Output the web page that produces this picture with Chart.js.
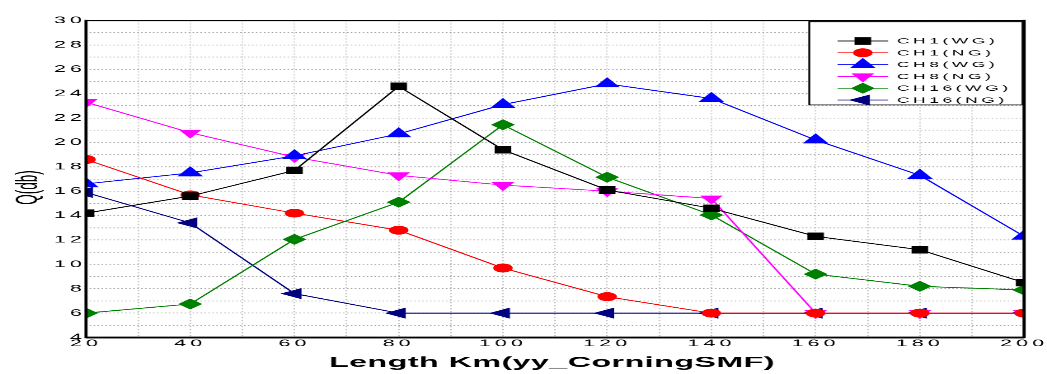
<!DOCTYPE html>
<html>
<head>
<meta charset="utf-8">
<script src="https://cdn.jsdelivr.net/npm/chart.js@4/dist/chart.umd.min.js"></script>
<style>
html,body{margin:0;padding:0;background:#fff;overflow:hidden}
#c{display:block}
</style>
</head>
<body>
<canvas id="c" width="635" height="499" style="width:1047px;height:374px"></canvas>
<script>
// ---- data ----
const lengthsKm = [20, 40, 60, 80, 100, 120, 140, 160, 180, 200];
const ch1WG  = [14.2, 15.6, 17.7, 24.6, 19.4, 16.1, 14.6, 12.3, 11.2, 8.5];
const ch1NG  = [18.6, 15.7, 14.2, 12.8, 9.7, 7.35, 6.0, 6.0, 6.0, 6.0];
const ch8WG  = [16.6, 17.5, 18.9, 20.7, 23.1, 24.8, 23.6, 20.2, 17.3, 12.3];
const ch8NG  = [23.3, 20.8, 18.8, 17.3, 16.5, 16.0, 15.4, 6.0, 6.0, 6.0];
const ch16WG = [6.0, 6.75, 12.05, 15.1, 21.45, 17.15, 14.05, 9.2, 8.2, 7.9];
const ch16NG = [15.9, 13.4, 7.6, 6.0, 6.0, 6.0, 6.0, 6.0, 6.0, 6.0];
const seriesNames = ['CH1(WG)', 'CH1(NG)', 'CH8(WG)', 'CH8(NG)', 'CH16(WG)', 'CH16(NG)'];
const xTickLabels = [20, 40, 60, 80, 100, 120, 140, 160, 180, 200];
const yTickLabels = [4, 6, 8, 10, 12, 14, 16, 18, 20, 22, 24, 26, 28, 30];
const xTitle = 'Length Km(yy_CorningSMF)';
const yTitle = 'Q(db)';

// ---- styles ----
const FONT = "'Liberation Sans', Arial, sans-serif";
const W = 635, H = 499;
const AREA = {left: 52.16, right: 621.1, top: 27.35, bottom: 450.3};
const styles = [
  {color: '#000000', pointStyle: 'rect', rotation: 0, radius: 6.4},
  {color: '#ff0000', pointStyle: 'circle', rotation: 0, radius: 5.4},
  {color: '#0000ff', pointStyle: 'triangle', rotation: 0, radius: 8},
  {color: '#ff00ff', pointStyle: 'triangle', rotation: 180, radius: 7},
  {color: '#008000', pointStyle: 'rectRot', rotation: 0, radius: 6.6},
  {color: '#000080', pointStyle: 'triangle', rotation: -90, radius: 7.5}
];
const seriesValues = [ch1WG, ch1NG, ch8WG, ch8NG, ch16WG, ch16NG];

const datasets = seriesValues.map((vals, i) => ({
  label: seriesNames[i],
  data: lengthsKm.map((x, j) => ({x: x, y: vals[j]})),
  borderColor: styles[i].color,
  backgroundColor: styles[i].color,
  borderWidth: 1.2,
  pointStyle: styles[i].pointStyle,
  pointRotation: styles[i].rotation,
  pointRadius: styles[i].radius,
  pointHoverRadius: styles[i].radius,
  pointBackgroundColor: styles[i].color,
  pointBorderColor: styles[i].color,
  pointBorderWidth: 1,
  fill: false,
  tension: 0,
  clip: 0
}));

const TICK_SPACING = '2.5px';
const spacingPlugin = {
  id: 'spacing',
  beforeUpdate(chart) { chart.ctx.letterSpacing = TICK_SPACING; },
  beforeDraw(chart) { chart.ctx.letterSpacing = TICK_SPACING; }
};

function drawMarker(ctx, st, x, y) {
  ctx.save();
  ctx.fillStyle = st.color;
  ctx.strokeStyle = st.color;
  ctx.lineWidth = 1;
  if (Chart.helpers && Chart.helpers.drawPoint) {
    Chart.helpers.drawPoint(ctx, {pointStyle: st.pointStyle, rotation: st.rotation, radius: st.radius, borderWidth: 1}, x, y);
  }
  ctx.restore();
}

const decorPlugin = {
  id: 'decor',
  afterDraw(chart) {
    const ctx = chart.ctx;
    const a = chart.chartArea;
    ctx.save();
    ctx.letterSpacing = '0px';
    // frame
    ctx.strokeStyle = '#000';
    ctx.lineWidth = 1.9;
    ctx.beginPath(); ctx.moveTo(a.left, a.top - 1); ctx.lineTo(a.left, a.bottom + 1); ctx.stroke();
    ctx.beginPath(); ctx.moveTo(a.right, a.top - 1); ctx.lineTo(a.right, a.bottom + 1); ctx.stroke();
    ctx.lineWidth = 1.8;
    ctx.beginPath(); ctx.moveTo(a.left, a.top); ctx.lineTo(a.right, a.top); ctx.stroke();
    ctx.lineWidth = 2.7;
    ctx.beginPath(); ctx.moveTo(a.left, a.bottom); ctx.lineTo(a.right, a.bottom); ctx.stroke();

    // legend box
    const bx = 490.8, by = 29, bw = 620.2 - 490.8, bh = 140 - 29;
    ctx.fillStyle = '#fff';
    ctx.fillRect(bx, by, bw, bh);
    ctx.lineWidth = 1.2;
    ctx.strokeStyle = '#000';
    ctx.strokeRect(bx, by, bw, bh);
    seriesNames.forEach((name, i) => {
      const y = 54.7 + i * 15.75;
      const st = styles[i];
      ctx.strokeStyle = st.color;
      ctx.lineWidth = 1.2;
      ctx.beginPath(); ctx.moveTo(508, y); ctx.lineTo(538.6, y); ctx.stroke();
      drawMarker(ctx, st, 523.3, y);
      ctx.save();
      ctx.letterSpacing = '2.2px';
      ctx.fillStyle = '#000';
      ctx.font = '10.5px ' + FONT;
      ctx.textAlign = 'left';
      ctx.textBaseline = 'middle';
      ctx.fillText(name, 544, y + 0.5);
      ctx.restore();
    });

    // axis titles
    ctx.fillStyle = '#000';
    ctx.font = 'bold 19.5px ' + FONT;
    ctx.letterSpacing = '0.3px';
    ctx.textAlign = 'center';
    ctx.textBaseline = 'alphabetic';
    ctx.fillText(xTitle, 334.8, 489.3);
    ctx.letterSpacing = '0px';

    ctx.save();
    ctx.translate(17.6, 250.2);
    ctx.rotate(-Math.PI / 2);
    ctx.font = '18px ' + FONT;
    ctx.textAlign = 'center';
    ctx.textBaseline = 'middle';
    ctx.fillText(yTitle, 0, 0);
    ctx.restore();

    ctx.restore();
  }
};

new Chart(document.getElementById('c'), {
  type: 'line',
  data: {datasets: datasets},
  options: {
    responsive: false,
    animation: false,
    devicePixelRatio: 2,
    layout: {padding: {left: 0, top: AREA.top, right: W - AREA.right, bottom: 0}},
    plugins: {legend: {display: false}, tooltip: {enabled: false}},
    scales: {
      x: {
        type: 'linear', min: 20, max: 200,
        afterFit(s) { s.height = H - AREA.bottom; s.paddingLeft = 0; s.paddingRight = 0; },
        ticks: {
          stepSize: 10, autoSkip: false, maxRotation: 0, minRotation: 0, padding: 0.5,
          color: '#000', font: {family: FONT, size: 13},
          callback: v => xTickLabels.includes(v) ? String(v) : ''
        },
        grid: {color: '#a0a0a0', lineWidth: 0.8, drawTicks: false},
        border: {display: false, dash: [1.3, 2.7]},
        title: {display: false}
      },
      y: {
        min: 4, max: 30,
        afterFit(s) { s.width = AREA.left; },
        ticks: {
          stepSize: 1, autoSkip: false, padding: 0,
          color: '#000', font: {family: FONT, size: 13},
          callback: v => yTickLabels.includes(v) ? String(v) : ''
        },
        grid: {color: '#a0a0a0', lineWidth: 1.1, drawTicks: false},
        border: {display: false, dash: [0.9, 1.5]},
        title: {display: false}
      }
    }
  },
  plugins: [spacingPlugin, decorPlugin]
});
</script>
</body>
</html>
